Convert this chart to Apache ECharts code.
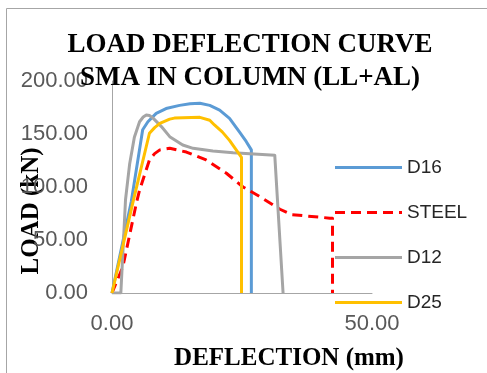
<!DOCTYPE html>
<html>
<head>
<meta charset="utf-8">
<script src="https://cdn.jsdelivr.net/npm/echarts@6/dist/echarts.min.js"></script>
<style>html,body{margin:0;padding:0;background:#fff;}#c{width:487px;height:373px;}</style>
</head>
<body>
<div id="c"></div>
<script>
var titleLines = ['LOAD DEFLECTION CURVE', 'SMA IN COLUMN (LL+AL)'];
var xName = 'DEFLECTION (mm)';
var yName = 'LOAD (kN)';
var seriesNames = ['D16', 'STEEL', 'D12', 'D25'];
var seriesColors = ['#5B9BD5', '#FF0000', '#A5A5A5', '#FFC000'];

var d16 = [[0,0],[3.7,86],[5.9,154],[6.9,161.6],[8.5,169.5],[10.4,174],[13.0,177],[15.0,178.5],[16.9,179],[18.8,177],[20.7,172.6],[22.6,164.8],[24.5,152],[25.8,143],[26.8,135],[26.8,0]];
var steel = [[0,0],[2.1,25],[4.7,85],[5.3,97],[7.2,125.5],[8.2,131.5],[9.2,135],[11.1,136.5],[14.3,133],[18.1,125.5],[22.0,113],[25.2,100],[28.4,91],[32.3,79],[34.5,74],[41.9,70.6],[42.4,70.6],[42.4,0]];
var d12 = [[0,0],[1.7,0],[2.6,88],[3.4,122],[4.3,147],[5.3,161.6],[6.0,166],[6.6,168],[7.2,167.5],[7.9,165],[9.5,157],[11.1,147.5],[13.6,139.6],[15.6,136.5],[19.4,134],[23.3,132.4],[31.3,130],[31.6,130],[32.9,0]];
var d25 = [[0,0],[4.0,85],[7.2,150.7],[8.2,156],[9.2,160],[11.1,164],[12.0,165],[16.9,165.7],[18.8,163],[19.7,158.5],[21.2,152],[22.6,144],[24.9,128],[24.9,0]];
var seriesData = [d16, steel, d12, d25];

var chart = echarts.init(document.getElementById('c'), null, {renderer: 'canvas'});
var serif = 'Liberation Serif';
var sans = 'Liberation Sans';
var solidIcon = 'path://M0,0H67V3H0Z';
var dashIcon = 'path://M0,0H10V3H0Z M16,0H26V3H16Z M32,0H42V3H32Z M48,0H58V3H48Z M64,0H67V3H64Z';
var series = seriesNames.map(function (n, i) {
  return {
    name: n,
    type: 'line',
    data: seriesData[i],
    symbol: 'none',
    smooth: false,
    lineStyle: {color: seriesColors[i], width: 3, type: n === 'STEEL' ? [10, 6] : 'solid', join: 'round'},
    itemStyle: {color: seriesColors[i]}
  };
});
chart.setOption({
  backgroundColor: '#fff',
  animation: false,
  title: {
    text: titleLines.join('\n'),
    left: 245,
    textAlign: 'center',
    top: 24,
    textStyle: {fontFamily: serif, fontWeight: 'bold', fontSize: 27, lineHeight: 33, color: '#000'}
  },
  graphic: [{type: 'rect', shape: {x: 6.5, y: 8.5, width: 520, height: 420}, style: {fill: 'none', stroke: '#A6A6A6', lineWidth: 1}, silent: true}],
  grid: {left: 112, right: 115, top: 81, bottom: 80, outerBoundsMode: 'none', containLabel: false},
  legend: {
    orient: 'vertical', left: 330, top: 153,
    itemWidth: 67, itemHeight: 3, itemGap: 26,
    textStyle: {fontFamily: sans, fontSize: 19, color: '#262626'},
    data: seriesNames.map(function (n, i) {
      return {name: n, icon: n === 'STEEL' ? dashIcon : solidIcon, itemStyle: {color: seriesColors[i]}};
    })
  },
  xAxis: {
    type: 'value', min: 0, max: 50, interval: 50,
    name: xName, nameLocation: 'middle', nameGap: 53, nameMoveOverlap: false,
    nameTextStyle: {fontFamily: serif, fontWeight: 'bold', fontSize: 25, color: '#000', padding: [0, 0, 0, 94]},
    axisLine: {show: true, lineStyle: {color: '#A6A6A6', width: 1}},
    axisTick: {show: false},
    splitLine: {show: false},
    axisLabel: {fontFamily: sans, fontSize: 22, color: '#595959', margin: 20, formatter: function (v) { return v.toFixed(2); }}
  },
  yAxis: {
    type: 'value', min: 0, max: 200, interval: 50,
    name: yName, nameLocation: 'middle', nameGap: 68, nameMoveOverlap: false,
    nameTextStyle: {fontFamily: serif, fontWeight: 'bold', fontSize: 25, color: '#000', padding: [0, 48, 0, 0]},
    axisLine: {show: true, lineStyle: {color: '#A6A6A6', width: 1}},
    axisTick: {show: false},
    splitLine: {show: false},
    axisLabel: {fontFamily: sans, fontSize: 22, color: '#595959', margin: 24, formatter: function (v) { return v.toFixed(2); }}
  },
  series: series
});
</script>
</body>
</html>
